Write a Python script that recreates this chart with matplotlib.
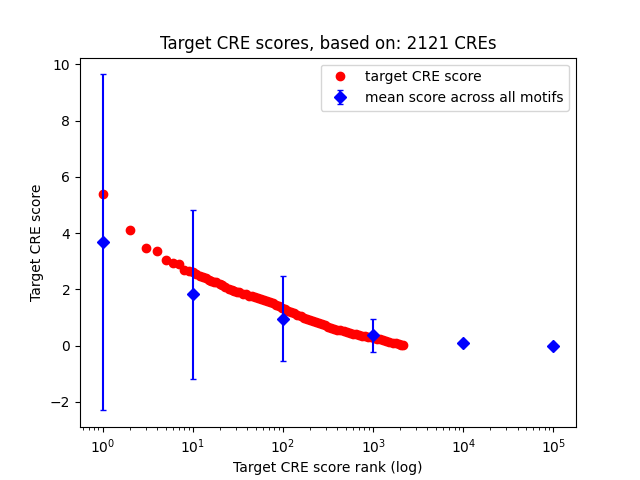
import matplotlib
matplotlib.use('Agg')
import matplotlib.pyplot as plt

# target CRE scores, by rank
ranks = [1, 2, 3, 4, 5, 6, 7, 8, 9,
         10, 11, 12, 13, 14, 15, 16, 17, 18, 20, 21, 23, 25, 27, 29, 31, 33,
         36, 39, 42, 45, 49, 53, 57, 62, 67, 72, 78, 84, 91, 98, 106, 115,
         124, 134, 145, 157, 170, 184, 199, 215, 232, 251, 272, 294, 318,
         344, 372, 402, 435, 470, 508, 550, 595, 643, 695, 752, 813, 879,
         951, 1028, 1112, 1202, 1300, 1406, 1520, 1644, 1777, 1922, 2040, 2121]
scores = [5.39, 4.11, 3.46, 3.36, 3.04, 2.95, 2.92, 2.68, 2.66,
          2.62, 2.55, 2.48, 2.44, 2.40, 2.35, 2.31, 2.28, 2.25, 2.18, 2.14,
          2.09, 2.03, 1.98, 1.95, 1.92, 1.89, 1.85, 1.82, 1.78, 1.76, 1.73,
          1.69, 1.66, 1.62, 1.58, 1.54, 1.50, 1.45, 1.40, 1.34, 1.29, 1.24,
          1.20, 1.15, 1.10, 1.05, 1.00, 0.96, 0.92, 0.88, 0.84, 0.80, 0.76,
          0.72, 0.68, 0.63, 0.60, 0.57, 0.54, 0.52, 0.49, 0.46, 0.43, 0.41,
          0.38, 0.36, 0.34, 0.32, 0.30, 0.28, 0.25, 0.22, 0.20, 0.17, 0.14,
          0.11, 0.08, 0.05, 0.03, 0.01]

# mean score across all motifs
mean_ranks = [1, 10, 100, 1000, 10000, 100000]
mean_scores = [3.67, 1.83, 0.96, 0.37, 0.09, 0.0]
mean_std = [5.97, 3.0, 1.5, 0.59, 0.05, 0.01]

fig = plt.figure(figsize=(6.4, 4.8), dpi=100)
plt.plot(ranks, scores, 'ro', label='target CRE score')
plt.errorbar(mean_ranks, mean_scores, yerr=mean_std, fmt='bD', capsize=2,
             label='mean score across all motifs')
plt.xscale('log')
plt.title('Target CRE scores, based on: 2121 CREs')
plt.xlabel('Target CRE score rank (log)')
plt.ylabel('Target CRE score')
plt.legend(loc='upper right')
plt.savefig('out.png')
